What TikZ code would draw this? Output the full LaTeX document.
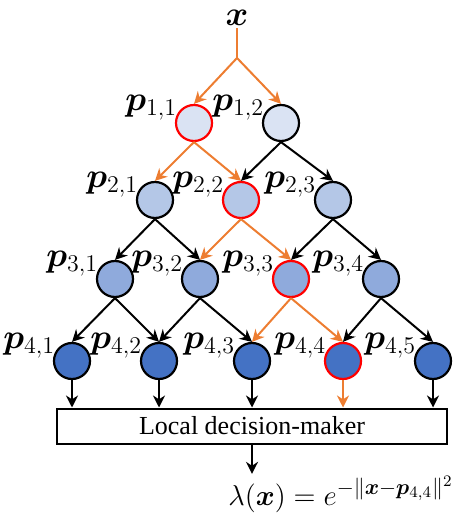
\documentclass[tikz,border=0pt]{standalone}
\usepackage{amsmath,amssymb,bm}
\usepackage{fontspec}
\setmainfont{Liberation Serif}
\usepackage{tikz}
\usetikzlibrary{arrows.meta,positioning}
\definecolor{hotorange}{HTML}{ED7D31}
\definecolor{levela}{HTML}{DAE3F3}
\definecolor{levelb}{HTML}{B4C7E7}
\definecolor{levelc}{HTML}{8FAADC}
\definecolor{leveld}{HTML}{4472C4}
\newcommand{\pn}[1]{\bm{p}_{#1}}

\begin{document}
\begin{tikzpicture}[x=0.5pt,y=-0.5pt,
    cell/.style={circle, draw, line width=1.1pt, minimum size=18pt, inner sep=0pt},
    hit/.style={draw=red},
    lbl/.style={inner sep=0pt, font=\fontsize{16.5}{19}\selectfont, xshift=-1.5pt, yshift=-5.5pt},
    link/.style={-{Stealth[length=6pt,width=6pt]}, line width=1pt},
    hot/.style={link, draw=hotorange, color=hotorange}]
  \useasboundingbox (0,0) rectangle (459,522);

  % input
  \node[font=\fontsize{16.5}{19}\selectfont, anchor=base, inner sep=1pt] (x) at (237,26) {$\bm{x}$};
  \coordinate (split) at (237,58);

  % level 1
  \node[cell, hit, fill=levela, label={[lbl]north west:$\pn{1,1}$}] (p11) at (194,123) {};
  \node[cell, fill=levela, label={[lbl]north west:$\pn{1,2}$}] (p12) at (281,123) {};
  % level 2
  \node[cell, fill=levelb, label={[lbl]north west:$\pn{2,1}$}] (p21) at (155,200) {};
  \node[cell, hit, fill=levelb, label={[lbl]north west:$\pn{2,2}$}] (p22) at (241,200) {};
  \node[cell, fill=levelb, label={[lbl]north west:$\pn{2,3}$}] (p23) at (333,200) {};
  % level 3
  \node[cell, fill=levelc, label={[lbl]north west:$\pn{3,1}$}] (p31) at (115,279) {};
  \node[cell, fill=levelc, label={[lbl]north west:$\pn{3,2}$}] (p32) at (200,279) {};
  \node[cell, hit, fill=levelc, label={[lbl]north west:$\pn{3,3}$}] (p33) at (291,279) {};
  \node[cell, fill=levelc, label={[lbl]north west:$\pn{3,4}$}] (p34) at (381,279) {};
  % level 4
  \node[cell, fill=leveld, label={[lbl]north west:$\pn{4,1}$}] (p41) at (72,361) {};
  \node[cell, fill=leveld, label={[lbl]north west:$\pn{4,2}$}] (p42) at (159,361) {};
  \node[cell, fill=leveld, label={[lbl]north west:$\pn{4,3}$}] (p43) at (252,361) {};
  \node[cell, hit, fill=leveld, label={[lbl]north west:$\pn{4,4}$}] (p44) at (343,361) {};
  \node[cell, fill=leveld, label={[lbl]north west:$\pn{4,5}$}] (p45) at (433,361) {};

  % decision + output
  \node[draw, line width=1pt, minimum width=195pt, minimum height=17.5pt, inner sep=0pt,
        font=\fontsize{13}{15}\selectfont] (dm) at (252,426) {Local decision-maker};
  \node[anchor=base west, inner sep=1pt, font=\fontsize{15.5}{18}\selectfont] (lam) at (226,505)
        {$\lambda(\bm{x}) = e^{-\|\bm{x}-\bm{p}_{4,4}\|^2}$};

  \draw[hotorange, line width=1pt] (x.south) -- (split);
  \draw[hot] (split) -- (p11.north);
  \draw[hot] (split) -- (p12.north);

  \draw[hot] (p11.south) -- (p21.north);
  \draw[hot] (p11.south) -- (p22.north);
  \draw[link] (p12.south) -- (p22.north);
  \draw[link] (p12.south) -- (p23.north);

  \draw[link] (p21.south) -- (p31.north);
  \draw[link] (p21.south) -- (p32.north);
  \draw[hot] (p22.south) -- (p32.north);
  \draw[hot] (p22.south) -- (p33.north);
  \draw[link] (p23.south) -- (p33.north);
  \draw[link] (p23.south) -- (p34.north);

  \draw[link] (p31.south) -- (p41.north);
  \draw[link] (p31.south) -- (p42.north);
  \draw[link] (p32.south) -- (p42.north);
  \draw[link] (p32.south) -- (p43.north);
  \draw[hot] (p33.south) -- (p43.north);
  \draw[hot] (p33.south) -- (p44.north);
  \draw[link] (p34.south) -- (p44.north);
  \draw[link] (p34.south) -- (p45.north);

  \draw[link] (p41.south) -- (p41.south |- dm.north);
  \draw[link] (p42.south) -- (p42.south |- dm.north);
  \draw[link] (p43.south) -- (p43.south |- dm.north);
  \draw[hot] (p44.south) -- (p44.south |- dm.north);
  \draw[link] (p45.south) -- (p45.south |- dm.north);

  \draw[link] (dm.south) -- (dm.south |- lam.north);
\end{tikzpicture}
\end{document}
